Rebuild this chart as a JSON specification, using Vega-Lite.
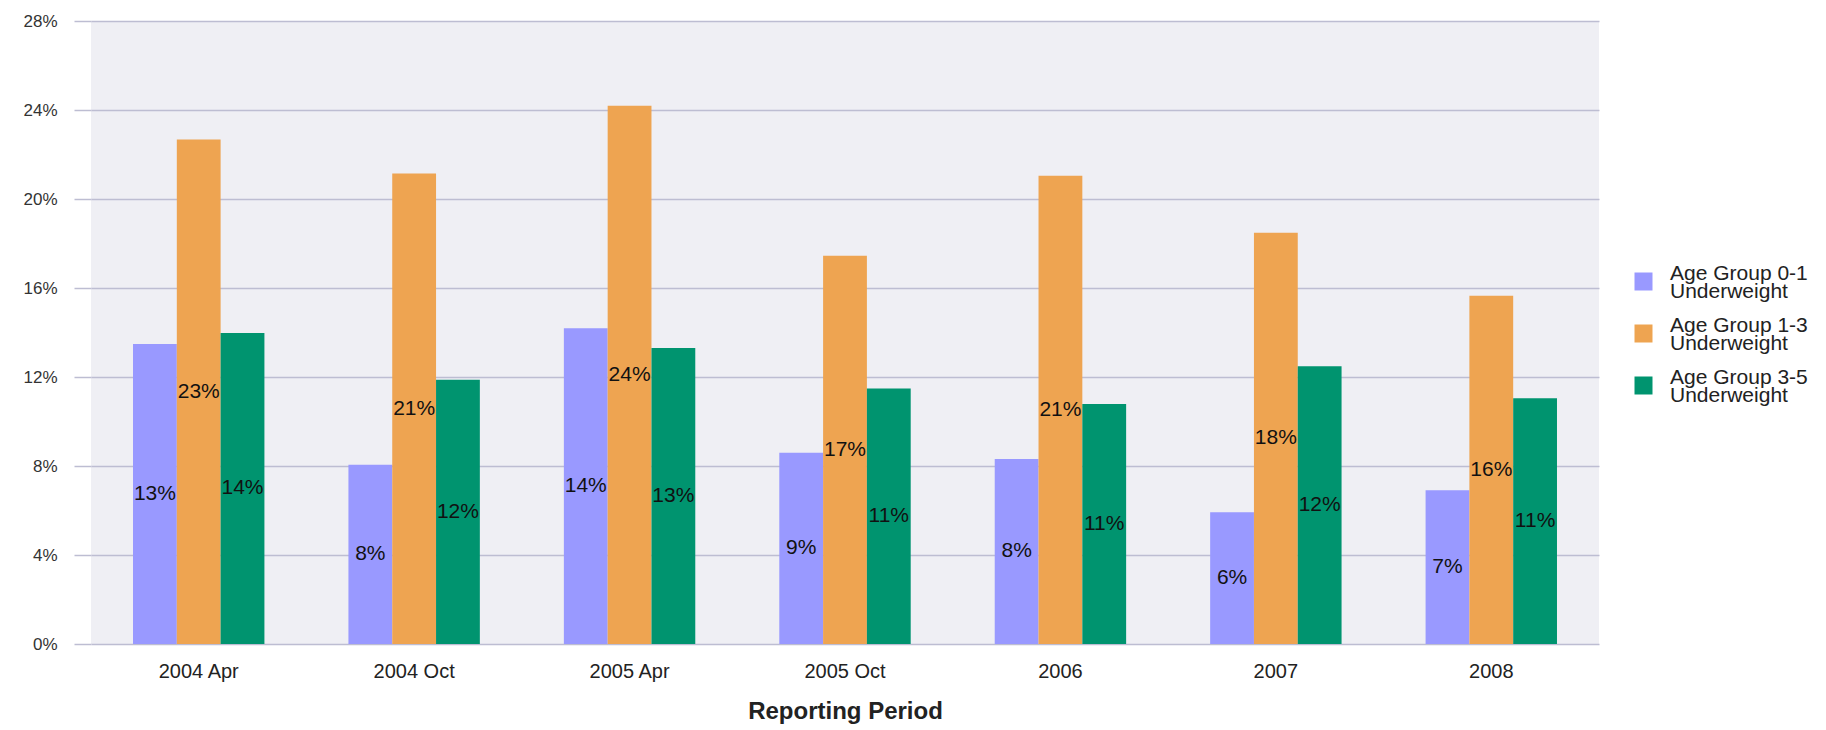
{
  "$schema": "https://vega.github.io/schema/vega-lite/v6.json",
  "width": 1508,
  "height": 623,
  "autosize": {"type": "none"},
  "padding": {"left": 91, "top": 21, "right": 227, "bottom": 86},
  "background": "white",
  "config": {
    "font": "Liberation Sans",
    "view": {"fill": "#efeff4", "stroke": null}
  },
  "data": {
    "values": [
      {"period": "2004 Apr", "group": "Age Group 0-1 Underweight", "value": 0.1348},
      {"period": "2004 Apr", "group": "Age Group 1-3 Underweight", "value": 0.2267},
      {"period": "2004 Apr", "group": "Age Group 3-5 Underweight", "value": 0.1398},
      {"period": "2004 Oct", "group": "Age Group 0-1 Underweight", "value": 0.0806},
      {"period": "2004 Oct", "group": "Age Group 1-3 Underweight", "value": 0.2115},
      {"period": "2004 Oct", "group": "Age Group 3-5 Underweight", "value": 0.1188},
      {"period": "2005 Apr", "group": "Age Group 0-1 Underweight", "value": 0.1419},
      {"period": "2005 Apr", "group": "Age Group 1-3 Underweight", "value": 0.2419},
      {"period": "2005 Apr", "group": "Age Group 3-5 Underweight", "value": 0.133},
      {"period": "2005 Oct", "group": "Age Group 0-1 Underweight", "value": 0.0859},
      {"period": "2005 Oct", "group": "Age Group 1-3 Underweight", "value": 0.1745},
      {"period": "2005 Oct", "group": "Age Group 3-5 Underweight", "value": 0.1148},
      {"period": "2006", "group": "Age Group 0-1 Underweight", "value": 0.0832},
      {"period": "2006", "group": "Age Group 1-3 Underweight", "value": 0.2105},
      {"period": "2006", "group": "Age Group 3-5 Underweight", "value": 0.1079},
      {"period": "2007", "group": "Age Group 0-1 Underweight", "value": 0.0592},
      {"period": "2007", "group": "Age Group 1-3 Underweight", "value": 0.1848},
      {"period": "2007", "group": "Age Group 3-5 Underweight", "value": 0.1248},
      {"period": "2008", "group": "Age Group 0-1 Underweight", "value": 0.0691},
      {"period": "2008", "group": "Age Group 1-3 Underweight", "value": 0.1565},
      {"period": "2008", "group": "Age Group 3-5 Underweight", "value": 0.1105}
    ]
  },
  "encoding": {
    "x": {
      "field": "period",
      "type": "nominal",
      "sort": null,
      "scale": {"paddingInner": 0.39, "paddingOuter": 0.195},
      "axis": {
        "title": "Reporting Period",
        "titleFont": "Liberation Sans",
        "titleFontSize": 24,
        "titleFontWeight": "bold",
        "titleColor": "#222222",
        "titlePadding": 18,
        "labelAngle": 0,
        "labelFontSize": 20,
        "labelColor": "#222222",
        "labelPadding": 17,
        "ticks": false,
        "domain": false
      }
    },
    "xOffset": {"field": "group", "type": "nominal", "scale": {"paddingInner": 0, "paddingOuter": 0}}
  },
  "layer": [
    {
      "mark": {"type": "bar"},
      "encoding": {
        "y": {
          "field": "value",
          "type": "quantitative",
          "scale": {"domain": [0, 0.28], "nice": false},
          "axis": {
            "title": null,
            "format": ".0%",
            "values": [0, 0.04, 0.08, 0.12, 0.16, 0.2, 0.24, 0.28],
            "grid": true,
            "gridColor": "#bdbdd2",
            "gridWidth": 1.5,
            "gridOpacity": 1,
            "tickColor": "#bdbdd2",
            "tickWidth": 1.5,
            "tickSize": 17,
            "labelPadding": 17,
            "labelFontSize": 17,
            "labelColor": "#333333",
            "domain": false
          }
        },
        "color": {
          "field": "group",
          "type": "nominal",
          "scale": {"range": ["#9999ff", "#eea451", "#00946f"]},
          "legend": {
            "title": null,
            "orient": "none",
            "legendX": 1542,
            "legendY": 250,
            "symbolType": "square",
            "symbolSize": 324,
            "symbolStrokeWidth": 0,
            "symbolOpacity": 1,
            "labelFontSize": 21,
            "labelColor": "#222222",
            "labelOffset": 16,
            "labelLimit": 300,
            "rowPadding": 12,
            "labelExpr": "[slice(datum.label, 0, 13), 'Underweight']",
            "encode": {
              "labels": {"update": {"lineHeight": {"value": 18}, "dy": {"value": -8}}}
            }
          }
        }
      }
    },
    {
      "mark": {"type": "text", "fontSize": 21, "color": "#111111", "baseline": "middle", "align": "center"},
      "encoding": {
        "y": {
          "field": "value",
          "type": "quantitative",
          "scale": {"domain": [0, 0.56], "nice": false},
          "axis": null
        },
        "text": {"field": "value", "type": "quantitative", "format": ".0%"}
      }
    }
  ],
  "resolve": {"scale": {"y": "independent"}}
}
